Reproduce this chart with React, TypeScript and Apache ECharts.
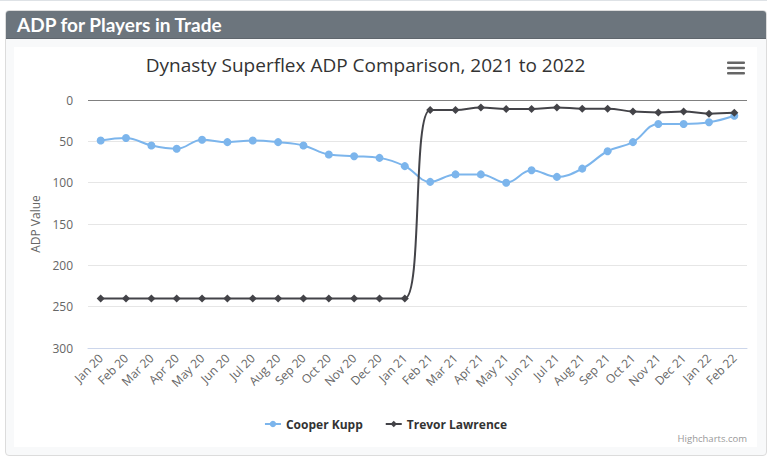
import React, { useEffect, useRef } from "react";
import * as echarts from "echarts";

const categories = [
  "Jan 20", "Feb 20", "Mar 20", "Apr 20", "May 20", "Jun 20", "Jul 20", "Aug 20", "Sep 20", "Oct 20", "Nov 20", "Dec 20",
  "Jan 21", "Feb 21", "Mar 21", "Apr 21", "May 21", "Jun 21", "Jul 21", "Aug 21", "Sep 21", "Oct 21", "Nov 21", "Dec 21",
  "Jan 22", "Feb 22",
];
const cooperKupp = [49, 46, 55, 59, 48, 51, 49, 51, 55, 66, 68, 70, 80, 99, 90, 90, 100, 85, 93, 83, 62, 51, 29, 29, 27, 19];
const trevorLawrence = [240, 240, 240, 240, 240, 240, 240, 240, 240, 240, 240, 240, 240, 12, 12, 9, 11, 11, 9, 10.5, 10.5, 14, 15, 14, 16.5, 15.5];
const yMin = 0;
const yMax = 300;
const yStep = 50;

const FONT = "'Open Sans', 'DejaVu Sans', sans-serif";

export default function App() {
  const ref = useRef<HTMLDivElement>(null);
  useEffect(() => {
    if (!ref.current) return;
    const chart = echarts.init(ref.current, null, { renderer: "svg" });
    chart.setOption({
      animation: false,
      backgroundColor: "#ffffff",
      textStyle: { fontFamily: FONT },
      grid: { left: 74, right: 10, top: 53, bottom: 99, containLabel: false },
      graphic: [
        {
          type: "text",
          x: 351.5,
          y: 18,
          style: {
            text: "Dynasty Superflex ADP Comparison, 2021 to 2022",
            fill: "#333333",
            fontSize: 19,
            fontFamily: FONT,
            textAlign: "center",
            textVerticalAlign: "middle",
          },
        },
        { type: "rect", shape: { x: 713, y: 14.5, width: 18, height: 2.5, r: 1 }, style: { fill: "#666666" } },
        { type: "rect", shape: { x: 713, y: 19.8, width: 18, height: 2.5, r: 1 }, style: { fill: "#666666" } },
        { type: "rect", shape: { x: 713, y: 25.1, width: 18, height: 2.5, r: 1 }, style: { fill: "#666666" } },
        {
          type: "text",
          x: 733,
          y: 391,
          style: {
            text: "Highcharts.com",
            fill: "#999999",
            fontSize: 9.5,
            fontFamily: FONT,
            textAlign: "right",
            textVerticalAlign: "middle",
          },
        },
      ],
      legend: {
        left: "center",
        top: 366,
        itemGap: 22,
        itemWidth: 16,
        itemHeight: 8,
        textStyle: { color: "#333333", fontSize: 12, fontWeight: "bold", fontFamily: FONT },
        data: ["Cooper Kupp", "Trevor Lawrence"],
      },
      xAxis: {
        type: "category",
        data: categories,
        boundaryGap: true,
        axisLine: { onZero: false, lineStyle: { color: "#ccd6eb", width: 1 } },
        axisTick: { show: false },
        axisLabel: { rotate: 45, color: "#666666", fontSize: 12, margin: 8, interval: 0, fontFamily: FONT },
        splitLine: { show: false },
      },
      yAxis: {
        type: "value",
        inverse: true,
        min: yMin,
        max: yMax,
        interval: yStep,
        name: "ADP Value",
        nameLocation: "middle",
        nameGap: 47,
        nameRotate: 90,
        nameTextStyle: { color: "#666666", fontSize: 12, fontFamily: FONT },
        axisLine: { show: false },
        axisTick: { show: false },
        axisLabel: { color: "#666666", fontSize: 12, margin: 15, fontFamily: FONT },
        splitLine: { lineStyle: { color: "#e6e6e6", width: 1 } },
      },
      series: [
        {
          name: "Cooper Kupp",
          type: "line",
          data: cooperKupp,
          smooth: 0.4,
          symbol: "circle",
          symbolSize: 8,
          itemStyle: { color: "#7cb5ec" },
          lineStyle: { color: "#7cb5ec", width: 2 },
          markLine: {
            silent: true,
            symbol: "none",
            label: { show: false },
            lineStyle: { color: "#808080", width: 1, type: "solid" },
            data: [{ yAxis: 0 }],
          },
          z: 2,
        },
        {
          name: "Trevor Lawrence",
          type: "line",
          data: trevorLawrence,
          smooth: 0.4,
          symbol: "diamond",
          symbolSize: 8,
          itemStyle: { color: "#434348" },
          lineStyle: { color: "#434348", width: 2 },
          z: 3,
        },
      ],
    });
    return () => chart.dispose();
  }, []);

  return (
    <div style={{ position: "absolute", left: 0, top: 0, width: 778, height: 461, background: "#ffffff", fontFamily: FONT }}>
      <div style={{ position: "absolute", left: 0, top: 0, width: 767, height: 1, background: "#dee2e6" }} />
      <div
        style={{
          position: "absolute",
          left: 5,
          top: 10,
          width: 760,
          height: 444,
          border: "1px solid #dcdcdc",
          borderRadius: 4,
          overflow: "hidden",
          background: "#f8f9fa",
        }}
      >
        <div
          style={{
            height: 27,
            background: "#6c757d",
            color: "#ffffff",
            fontWeight: "bold",
            fontSize: 19,
            fontFamily: "Lato, 'Open Sans', sans-serif",
            lineHeight: "28px",
            paddingLeft: 11,
            borderBottom: "1px solid #5f666d",
            boxSizing: "content-box",
          }}
        >
          ADP for Players in Trade
        </div>
      </div>
      <div ref={ref} style={{ position: "absolute", left: 14, top: 47, width: 743, height: 400 }} />
    </div>
  );
}
